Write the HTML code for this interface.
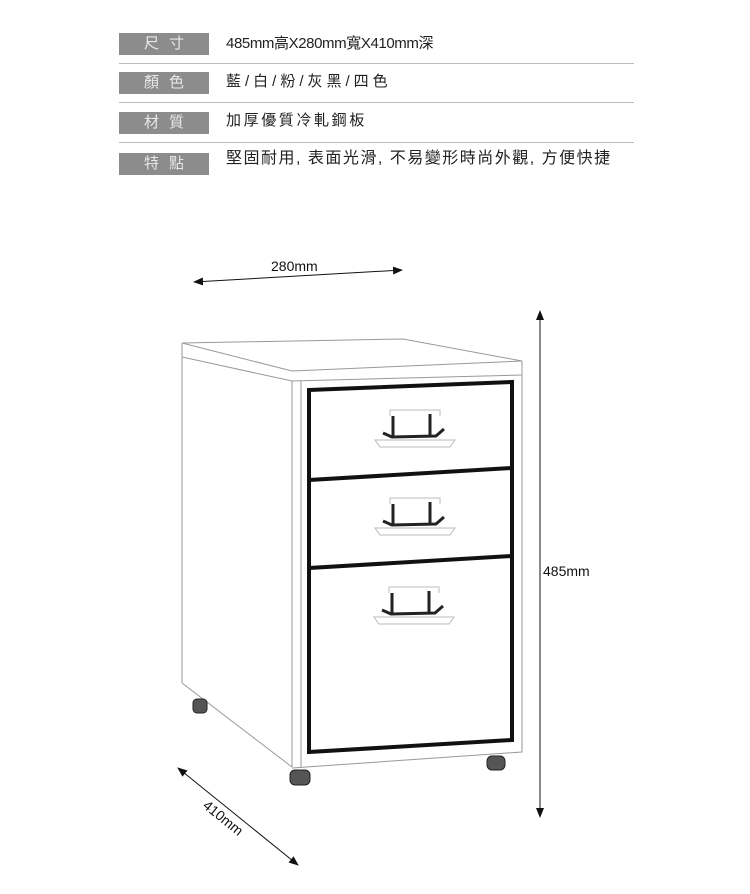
<!DOCTYPE html>
<html><head><meta charset="utf-8"><style>
html,body{margin:0;padding:0;background:#fff;}
body{width:750px;height:894px;overflow:hidden;position:relative;font-family:"Liberation Sans","Noto Sans CJK TC",sans-serif;}
.lab{position:absolute;left:119px;width:90px;height:22px;background:#8c8c8c;color:#e8e8e8;font-size:15px;line-height:22px;text-align:center;letter-spacing:10px;text-indent:10px;}
.val{position:absolute;left:226px;font-size:15px;color:#222;line-height:22px;white-space:nowrap;}
.hr{position:absolute;left:119px;width:515px;height:1px;background:#bbb;}
</style></head><body>
<div class="lab" style="top:33px">尺寸</div><div class="val" style="top:33px;letter-spacing:-0.4px">485mm高X280mm寬X410mm深</div>
<div class="hr" style="top:63px"></div>
<div class="lab" style="top:72px">顏色</div><div class="val" style="top:71px;letter-spacing:4px">藍/白/粉/灰黑/四色</div>
<div class="hr" style="top:102px"></div>
<div class="lab" style="top:112px">材質</div><div class="val" style="top:110px;letter-spacing:2.6px">加厚優質冷軋鋼板</div>
<div class="hr" style="top:142px"></div>
<div class="lab" style="top:153px">特點</div><div class="val" style="top:148px;font-size:16px;letter-spacing:1.5px">堅固耐用, 表面光滑, 不易變形時尚外觀, 方便快捷</div>

<svg width="750" height="894" style="position:absolute;left:0;top:0" xmlns="http://www.w3.org/2000/svg">
<defs><marker id="a" markerWidth="10" markerHeight="8" refX="9" refY="4" orient="auto-start-reverse" markerUnits="userSpaceOnUse"><path d="M0,0 L10,4 L0,8 Z" fill="#111"/></marker></defs>
<g fill="none" stroke="#999" stroke-width="1">
<polygon points="182,343 403,339 522,361 292,371"/>
<polyline points="182,343 182,357 292,381 522,375 522,361"/>
<line x1="182" y1="357" x2="182" y2="683"/>
<line x1="182" y1="683" x2="292" y2="767"/>
<line x1="292" y1="381" x2="292" y2="767"/>
<line x1="301" y1="381" x2="301" y2="767"/>
<polyline points="292,768 522,752 522,375"/>
</g>
<g fill="none" stroke="#111" stroke-width="4">
<polygon points="309,390 512,382 512,740 309,752"/>
<line x1="309" y1="480" x2="512" y2="468"/>
<line x1="309" y1="568" x2="512" y2="556"/>
</g>
<g fill="none" stroke="#222" stroke-width="3">
<path d="M383,433 L392,437 L436,436 L444,429"/><line x1="393" y1="436" x2="393" y2="416"/><line x1="430" y1="435" x2="430" y2="414"/>
<path d="M383,521 L392,525 L436,524 L444,517"/><line x1="393" y1="524" x2="393" y2="504"/><line x1="430" y1="523" x2="430" y2="502"/>
<path d="M382,610 L391,614 L435,613 L443,606"/><line x1="392" y1="613" x2="392" y2="593"/><line x1="429" y1="612" x2="429" y2="591"/>
</g>
<g fill="none" stroke="#bbb" stroke-width="1">
<path d="M390,416 L390,410 L440,410 L440,416 M375,440 L455,440 L450,447 L380,447 Z"/>
<path d="M390,504 L390,498 L440,498 L440,504 M375,528 L455,528 L450,535 L380,535 Z"/>
<path d="M389,593 L389,587 L439,587 L439,593 M374,617 L454,617 L449,624 L379,624 Z"/>
</g>
<g fill="#555" stroke="#222">
<rect x="193" y="699" width="14" height="14" rx="4"/>
<rect x="290" y="770" width="20" height="15" rx="5"/>
<rect x="487" y="756" width="18" height="14" rx="5"/>
</g>
<g stroke="#111" stroke-width="1">
<line x1="194" y1="282" x2="402" y2="270" marker-start="url(#a)" marker-end="url(#a)"/>
<line x1="540" y1="311" x2="540" y2="817" marker-start="url(#a)" marker-end="url(#a)"/>
<line x1="178" y1="768" x2="298" y2="865" marker-start="url(#a)" marker-end="url(#a)"/>
</g>
<g font-family="Liberation Sans, sans-serif" font-size="14" fill="#111">
<text x="271" y="271">280mm</text>
<text x="543" y="576">485mm</text>
<text x="0" y="0" transform="translate(202,807) rotate(39)">410mm</text>
</g>
</svg>
</body></html>
